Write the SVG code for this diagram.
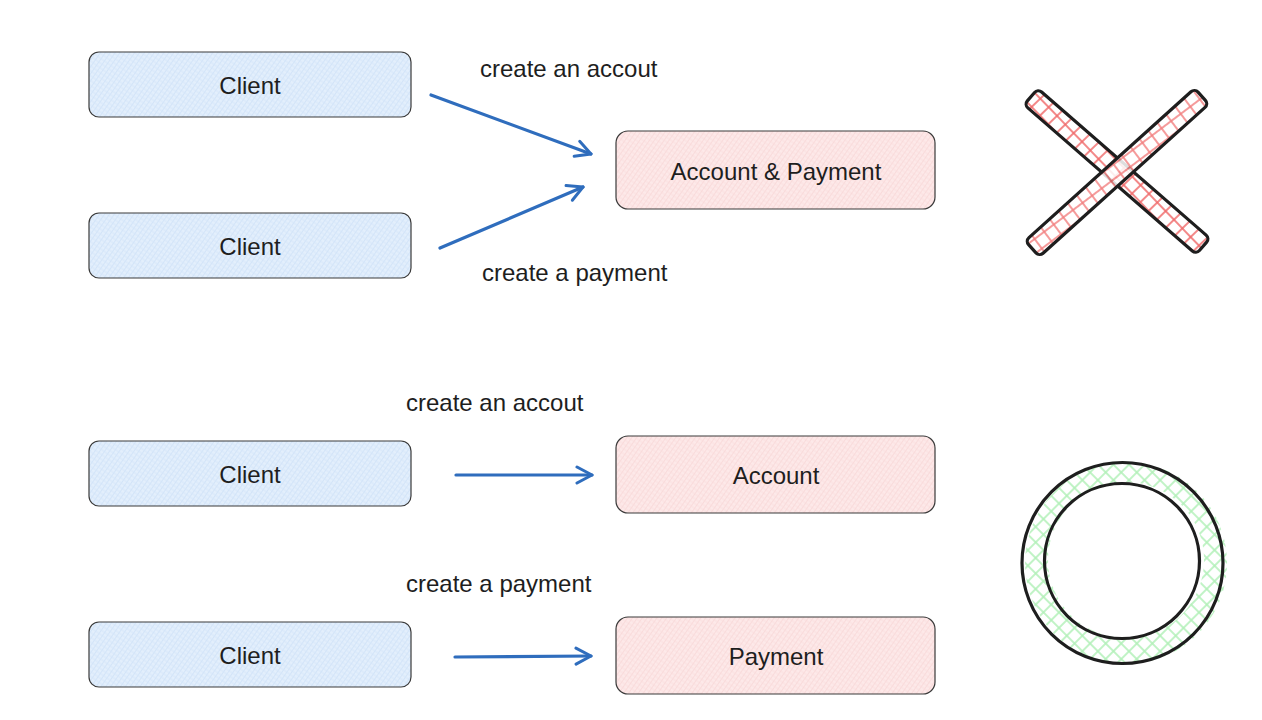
<svg xmlns="http://www.w3.org/2000/svg" width="1262" height="720" viewBox="0 0 1262 720">
<style>
.lbl{font-family:"Liberation Sans",Arial,sans-serif;font-size:24px;fill:#1e1e1e;}
.ntxt{font-family:"Liberation Sans",Arial,sans-serif;font-size:24px;fill:#1e1e1e;text-anchor:middle;dominant-baseline:central;}
.blue{fill:url(#hBlue);stroke:#3a3a3a;stroke-width:1.2;}
.pink{fill:url(#hPink);stroke:#3a3a3a;stroke-width:1.2;}
.conn{stroke:#2f6dbd;stroke-width:3.2;fill:none;stroke-linecap:round;marker-end:url(#arr);}
.ink{stroke:#1e1e1e;stroke-width:3.2;}
</style>
<defs>
<pattern id="hBlue" width="4" height="4" patternUnits="userSpaceOnUse" patternTransform="rotate(35)">
<rect width="4" height="4" fill="#e3effc"/>
<line x1="0" y1="0" x2="0" y2="4" stroke="#c9def6" stroke-width="1.2"/>
<line x1="0" y1="2" x2="4" y2="2" stroke="#d3e5f9" stroke-width="0.8"/>
</pattern>
<pattern id="hPink" width="4" height="4" patternUnits="userSpaceOnUse" patternTransform="rotate(35)">
<rect width="4" height="4" fill="#fde9e9"/>
<line x1="0" y1="0" x2="0" y2="4" stroke="#f7d2d2" stroke-width="1.2"/>
<line x1="0" y1="2" x2="4" y2="2" stroke="#f9dcdc" stroke-width="0.8"/>
</pattern>
<pattern id="hRed" width="12" height="12" patternUnits="userSpaceOnUse" patternTransform="rotate(5)">
<rect width="12" height="12" fill="#fff"/>
<line x1="2" y1="0" x2="2" y2="12" stroke="#f06b6b" stroke-width="1.6"/>
<line x1="0" y1="6" x2="12" y2="6" stroke="#f06b6b" stroke-width="1.6"/>
</pattern>
<pattern id="hGreen" width="11" height="11" patternUnits="userSpaceOnUse" patternTransform="rotate(45)">
<rect width="11" height="11" fill="#fff"/>
<line x1="2" y1="0" x2="2" y2="11" stroke="#b2f0b8" stroke-width="1.6"/>
<line x1="0" y1="6" x2="11" y2="6" stroke="#b2f0b8" stroke-width="1.6"/>
</pattern>
<marker id="arr" viewBox="0 0 20 20" refX="17" refY="10" markerWidth="20" markerHeight="20" markerUnits="userSpaceOnUse" orient="auto">
<path d="M2,2 L17,10 L2,18" fill="none" stroke="#2f6dbd" stroke-width="3" stroke-linecap="round" stroke-linejoin="round"/>
</marker>
</defs>
<rect width="1262" height="720" fill="#ffffff"/>

<g id="client1"><rect class="blue" x="89" y="52" width="322" height="65" rx="10"/><text class="ntxt" x="250" y="85">Client</text></g>
<g id="client2"><rect class="blue" x="89" y="213" width="322" height="65" rx="10"/><text class="ntxt" x="250" y="246">Client</text></g>
<g id="client3"><rect class="blue" x="89" y="441" width="322" height="65" rx="10"/><text class="ntxt" x="250" y="474">Client</text></g>
<g id="client4"><rect class="blue" x="89" y="622" width="322" height="65" rx="10"/><text class="ntxt" x="250" y="655">Client</text></g>

<g id="accountPayment"><rect class="pink" x="616" y="131" width="319" height="78" rx="12"/><text class="ntxt" x="776" y="171">Account &amp; Payment</text></g>
<g id="account"><rect class="pink" x="616" y="436" width="319" height="77" rx="12"/><text class="ntxt" x="776" y="475">Account</text></g>
<g id="payment"><rect class="pink" x="616" y="617" width="319" height="77" rx="12"/><text class="ntxt" x="776" y="656">Payment</text></g>

<g id="connectors">
<path class="conn" d="M431,95 L591,154"/>
<path class="conn" d="M440,248 L583,187"/>
<path class="conn" d="M456,475 L592,475"/>
<path class="conn" d="M455,657 L591,656"/>
</g>

<g id="labels">
<text class="lbl" x="480" y="77">create an accout</text>
<text class="lbl" x="482" y="281">create a payment</text>
<text class="lbl" x="406" y="411">create an accout</text>
<text class="lbl" x="406" y="592">create a payment</text>
</g>

<g id="crossMark">
<rect x="1003" y="161" width="228" height="21" rx="5" fill="url(#hRed)" class="ink" transform="rotate(41 1117 171.5)"/>
<rect x="1003" y="162" width="228" height="21" rx="5" fill="url(#hRed)" fill-opacity="0.85" class="ink" transform="rotate(-42 1117 172.5)"/>
</g>

<g id="circleMark">
<path d="M1122,462 a101,101 0 1,0 0.1,0 Z M1122,482 a78,78 0 1,0 0.1,0 Z" fill="url(#hGreen)" fill-rule="evenodd" stroke="none" transform="translate(4,0)"/>
<circle cx="1122.5" cy="563" r="100.5" fill="none" class="ink"/>
<circle cx="1122" cy="561" r="77.5" fill="none" class="ink"/>
</g>
</svg>
